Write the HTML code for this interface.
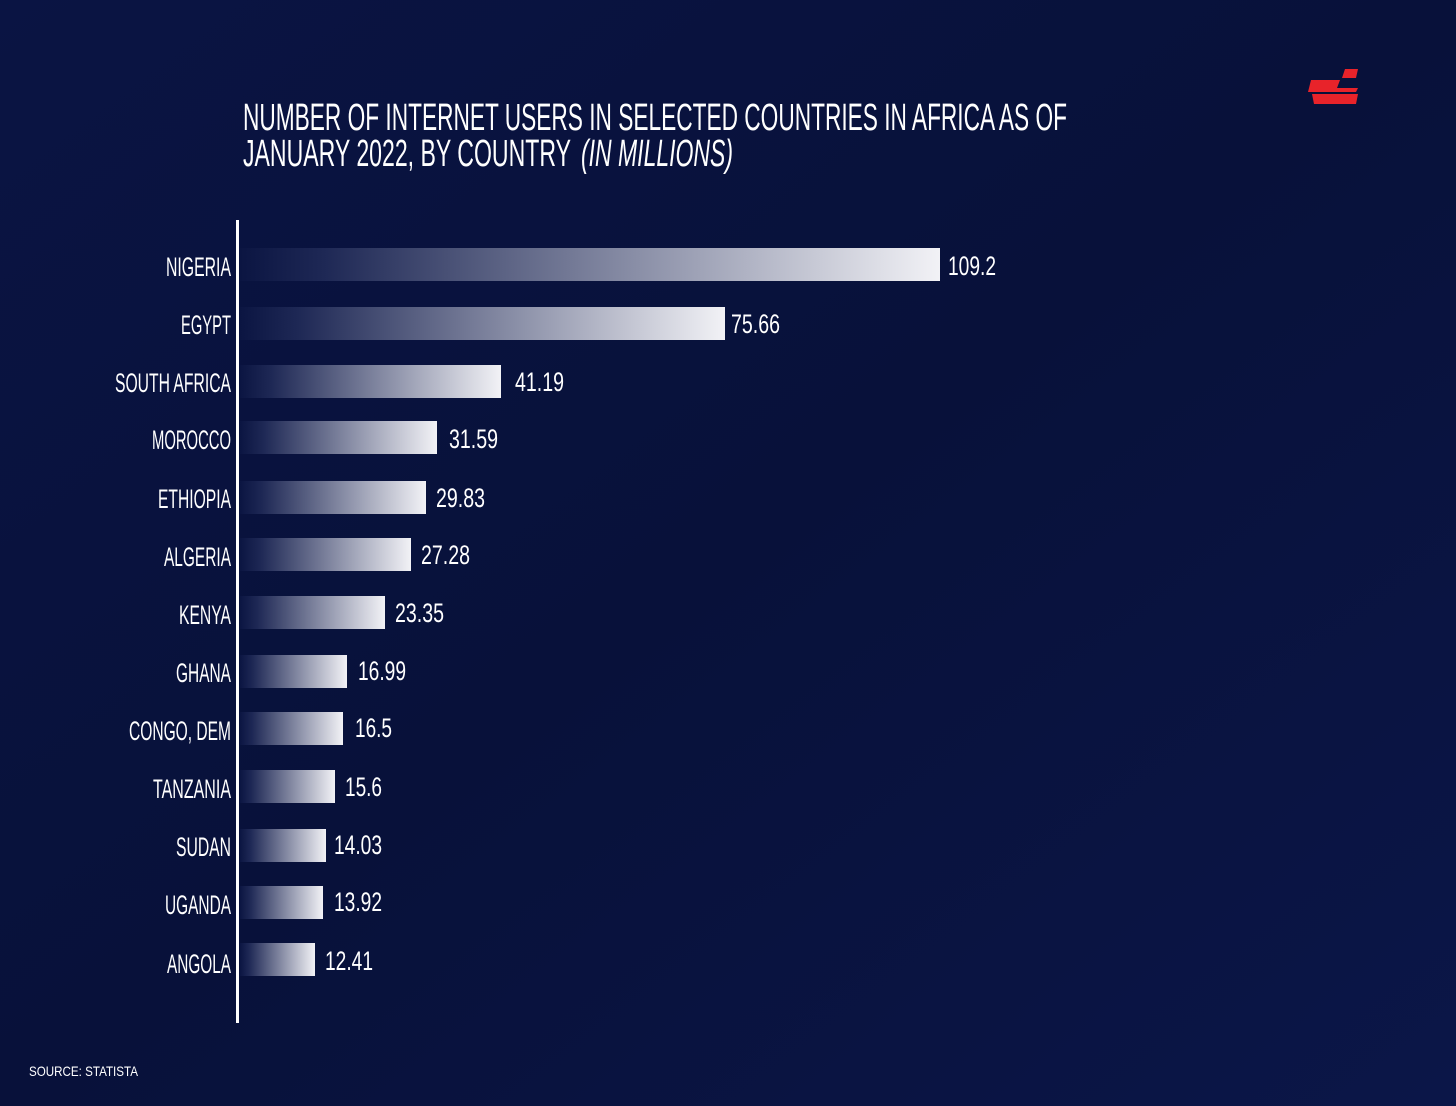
<!DOCTYPE html>
<html><head><meta charset="utf-8"><style>
html,body{margin:0;padding:0;width:1456px;height:1106px;overflow:hidden;background:#08113a}
svg{display:block}
text{font-family:"Liberation Sans Narrow","Liberation Sans",sans-serif;fill:#fff}
</style></head><body>
<svg width="1456" height="1106" viewBox="0 0 1456 1106">
<defs>
<linearGradient id="bg" x1="0" y1="0" x2="1" y2="1">
<stop offset="0" stop-color="#0a1443"/><stop offset="0.5" stop-color="#08113a"/><stop offset="1" stop-color="#0b1648"/>
</linearGradient>
<linearGradient id="bar" x1="0" y1="0" x2="1" y2="0">
<stop offset="0" stop-color="#0b1542"/><stop offset="0.12" stop-color="#1e2855"/><stop offset="1" stop-color="#f2f2f6"/>
</linearGradient>
</defs>
<rect width="1456" height="1106" fill="url(#bg)"/>
<g fill="#e8232a">
<polygon points="1345,69 1358,69 1356,78 1342,78"/>
<polygon points="1311,80 1340,80 1337,88 1358,88 1356,92 1308,92"/>
<polygon points="1312,94 1358,94 1356,104 1314,104"/>
</g>
<text x="243" y="130" font-size="38" textLength="824" lengthAdjust="spacingAndGlyphs">NUMBER OF INTERNET USERS IN SELECTED COUNTRIES IN AFRICA AS OF</text>
<text x="243" y="166" font-size="38" textLength="328" lengthAdjust="spacingAndGlyphs">JANUARY 2022, BY COUNTRY</text>
<text x="581" y="166" font-size="38" font-style="italic" textLength="152" lengthAdjust="spacingAndGlyphs" fill="#dde">(IN MILLIONS)</text>
<rect x="236" y="220" width="3" height="803" fill="#fff"/>
<g font-size="27" text-anchor="end">
<text x="231" y="276" textLength="65" lengthAdjust="spacingAndGlyphs">NIGERIA</text>
<text x="231" y="334" textLength="50" lengthAdjust="spacingAndGlyphs">EGYPT</text>
<text x="231" y="392" textLength="116" lengthAdjust="spacingAndGlyphs">SOUTH AFRICA</text>
<text x="231" y="449" textLength="79" lengthAdjust="spacingAndGlyphs">MOROCCO</text>
<text x="231" y="508" textLength="73" lengthAdjust="spacingAndGlyphs">ETHIOPIA</text>
<text x="231" y="566" textLength="67" lengthAdjust="spacingAndGlyphs">ALGERIA</text>
<text x="231" y="624" textLength="52" lengthAdjust="spacingAndGlyphs">KENYA</text>
<text x="231" y="682" textLength="55" lengthAdjust="spacingAndGlyphs">GHANA</text>
<text x="231" y="740" textLength="102" lengthAdjust="spacingAndGlyphs">CONGO, DEM</text>
<text x="231" y="798" textLength="78" lengthAdjust="spacingAndGlyphs">TANZANIA</text>
<text x="231" y="856" textLength="55" lengthAdjust="spacingAndGlyphs">SUDAN</text>
<text x="231" y="914" textLength="66" lengthAdjust="spacingAndGlyphs">UGANDA</text>
<text x="231" y="973" textLength="64" lengthAdjust="spacingAndGlyphs">ANGOLA</text>
</g>
<g fill="url(#bar)">
<rect x="240" y="248" width="700" height="33"/>
<rect x="240" y="307" width="485" height="33"/>
<rect x="240" y="365" width="261" height="33"/>
<rect x="240" y="421" width="197" height="33"/>
<rect x="240" y="481" width="186" height="33"/>
<rect x="240" y="538" width="171" height="33"/>
<rect x="240" y="596" width="145" height="33"/>
<rect x="240" y="655" width="107" height="33"/>
<rect x="240" y="712" width="103" height="33"/>
<rect x="240" y="770" width="95" height="33"/>
<rect x="240" y="829" width="86" height="33"/>
<rect x="240" y="886" width="83" height="33"/>
<rect x="240" y="943" width="75" height="33"/>
</g>
<g font-size="27">
<text x="948" y="275" textLength="48" lengthAdjust="spacingAndGlyphs">109.2</text>
<text x="731" y="333" textLength="49" lengthAdjust="spacingAndGlyphs">75.66</text>
<text x="515" y="391" textLength="49" lengthAdjust="spacingAndGlyphs">41.19</text>
<text x="449" y="448" textLength="49" lengthAdjust="spacingAndGlyphs">31.59</text>
<text x="436" y="507" textLength="49" lengthAdjust="spacingAndGlyphs">29.83</text>
<text x="421" y="564" textLength="49" lengthAdjust="spacingAndGlyphs">27.28</text>
<text x="395" y="622" textLength="49" lengthAdjust="spacingAndGlyphs">23.35</text>
<text x="358" y="680" textLength="48" lengthAdjust="spacingAndGlyphs">16.99</text>
<text x="355" y="737" textLength="37" lengthAdjust="spacingAndGlyphs">16.5</text>
<text x="345" y="796" textLength="37" lengthAdjust="spacingAndGlyphs">15.6</text>
<text x="334" y="854" textLength="48" lengthAdjust="spacingAndGlyphs">14.03</text>
<text x="334" y="911" textLength="48" lengthAdjust="spacingAndGlyphs">13.92</text>
<text x="325" y="970" textLength="48" lengthAdjust="spacingAndGlyphs">12.41</text>
</g>
<text x="29" y="1076" font-size="14" textLength="109" lengthAdjust="spacingAndGlyphs">SOURCE: STATISTA</text>
</svg>
</body></html>
